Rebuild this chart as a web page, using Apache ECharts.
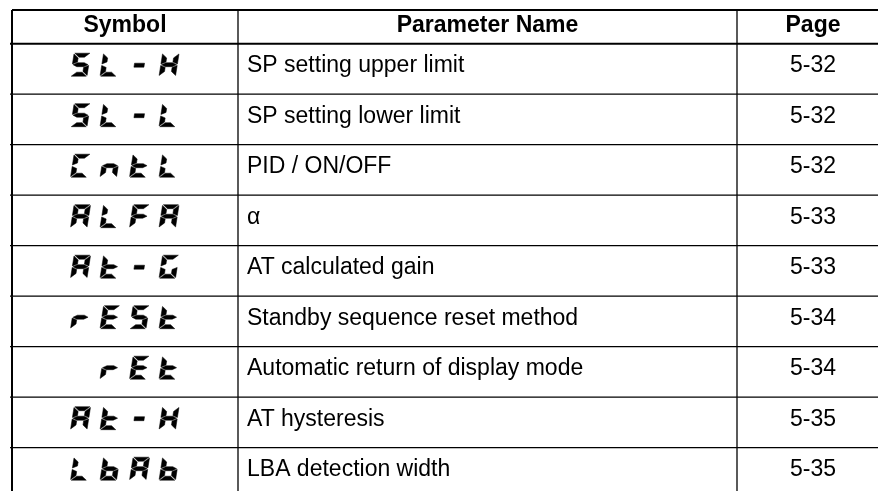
<!DOCTYPE html>
<html>
<head>
<meta charset="utf-8">
<script src="https://cdn.jsdelivr.net/npm/echarts@6/dist/echarts.min.js"></script>
<style>html,body{margin:0;padding:0;background:#fff}#chart{width:878px;height:491px}</style>
</head>
<body>
<div id="chart"></div>
<script>
// ---- data ----
const headers = ['Symbol', 'Parameter Name', 'Page'];
const symbols = ['SL-H', 'SL-L', 'CntL', 'ALFA', 'At-G', 'rESt', 'rEt', 'At-H', 'LbAb'];
const paramNames = ['SP setting upper limit', 'SP setting lower limit', 'PID / ON/OFF', '\u03b1',
  'AT calculated gain', 'Standby sequence reset method', 'Automatic return of display mode',
  'AT hysteresis', 'LBA detection width'];
const pages = ['5-32', '5-32', '5-32', '5-33', '5-33', '5-34', '5-34', '5-35', '5-35'];

// ---- seven-segment character map ----
const SEGMAP = { S: 'afgcd', L: 'fed', '-': '-', H: 'fbgec', C: 'afed', n: 'ceg', t: 'defg',
  A: 'abcefg', F: 'aefg', G: 'acdef', r: 'eg', E: 'adefg', b: 'cdefg', ' ': '' };

// ---- layout (table units along x, 0 = left border) ----
const COL = { div1: 226, div2: 725, right: 878, symCenter: 113, nameLeft: 235, pageCenter: 801 };
const FONT = "'Liberation Sans', Arial, Helvetica, sans-serif";
const GL = { H: 23, w0: 16.5, s: 3.6, tv: 4.8, th: 4.0, e: 0.75, pitch: 29.5, blockHalf: 54.5, top: 9.5 };

function segPolys(ch, x0, y0) {
  const { H, w0, s, tv, th, e } = GL, m = H / 2, hh = th / 2;
  const tr = (u, v) => [x0 + u + s * (1 - v / H), y0 + v];
  const defs = {
    a: [[e, 0], [w0 - e, 0], [w0 - tv - e, th], [tv + e, th]],
    d: [[tv + e, H - th], [w0 - tv - e, H - th], [w0 - e, H], [e, H]],
    g: [[e, m], [tv, m - hh], [w0 - tv, m - hh], [w0 - e, m], [w0 - tv, m + hh], [tv, m + hh]],
    f: [[0, e], [tv, th + e], [tv, m - hh - e], [0, m - e]],
    b: [[w0, e], [w0, m - e], [w0 - tv, m - hh - e], [w0 - tv, th + e]],
    e: [[0, m + e], [tv, m + hh + e], [tv, H - th - e], [0, H - e]],
    c: [[w0, m + e], [w0, H - e], [w0 - tv, H - th - e], [w0 - tv, m + hh + e]],
    '-': [[3, m + 0.5 - hh], [w0 - 3.5, m + 0.5 - hh], [w0 - 3.5, m + 0.5 + hh], [3, m + 0.5 + hh]]
  };
  const segs = SEGMAP[ch] || '';
  return segs.split('').map(k => ({
    type: 'polygon',
    shape: { points: defs[k].map(p => tr(p[0], p[1])) },
    style: { fill: '#000', stroke: '#000', lineWidth: 0.5, lineJoin: 'round' }
  }));
}

const chart = echarts.init(document.getElementById('chart'), null, { renderer: 'canvas' });

function line(x1, y1, x2, y2, w) {
  return { type: 'line', shape: { x1, y1, x2, y2 }, style: { stroke: '#000', lineWidth: w } };
}
function text(str, x, y, align, size, weight) {
  return { type: 'text', style: { text: str, x, y, align, verticalAlign: 'middle',
    fontFamily: FONT, fontSize: size, fontWeight: weight || 'normal', fill: '#000' } };
}

function renderItem(params, api) {
  const i = api.value(1);
  const X = v => api.coord([v, i])[0];
  const cy = api.coord([0, i])[1];
  const bh = api.size([0, 1])[1];
  const top = cy - bh / 2, bot = cy + bh / 2;
  const ch = [];
  if (i === 0) {
    const hTop = top - 33.7;
    ch.push(line(X(0), hTop, X(COL.right), hTop, 2));
    ch.push(line(X(-2), top, X(COL.right), top, 2));
    ch.push(line(X(0), hTop, X(0), top, 2));
    ch.push(line(X(COL.div1), hTop, X(COL.div1), top, 1.3));
    ch.push(line(X(COL.div2), hTop, X(COL.div2), top, 1.3));
    const hy = top - 18.5;
    ch.push(text(headers[0], X(COL.symCenter), hy, 'center', 23, 'bold'));
    ch.push(text(headers[1], (X(COL.div1) + X(COL.div2)) / 2, hy, 'center', 23, 'bold'));
    ch.push(text(headers[2], X(COL.pageCenter), hy, 'center', 23, 'bold'));
  }
  ch.push(line(X(-2), bot, X(COL.right), bot, 1.3));
  ch.push(line(X(0), top, X(0), bot, 2));
  ch.push(line(X(COL.div1), top, X(COL.div1), bot, 1.3));
  ch.push(line(X(COL.div2), top, X(COL.div2), bot, 1.3));
  const ty = top + 22;
  ch.push(text(paramNames[i], X(COL.nameLeft), ty, 'left', 23));
  ch.push(text(pages[i], X(COL.pageCenter), ty, 'center', 23));
  const sym = symbols[i].padStart(4, ' ');
  const left = X(COL.symCenter) - GL.blockHalf;
  for (let k = 0; k < 4; k++) {
    segPolys(sym[k], left + GL.pitch * k, top + GL.top).forEach(p => ch.push(p));
  }
  return { type: 'group', children: ch };
}

chart.setOption({
  animation: false,
  backgroundColor: '#fff',
  grid: { left: 12, top: 43.7, width: 878, height: 9 * 50.5, outerBoundsMode: 'none', containLabel: false },
  xAxis: { type: 'value', min: 0, max: 878, show: false },
  yAxis: { type: 'category', data: symbols, inverse: true, show: false },
  series: [{
    type: 'custom',
    clip: false,
    renderItem,
    data: symbols.map((s, i) => [0, i])
  }]
});
</script>
</body>
</html>
